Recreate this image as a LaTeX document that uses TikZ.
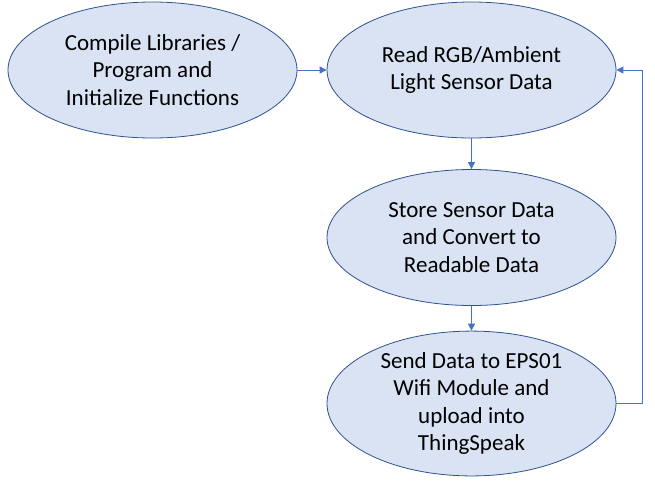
\documentclass[tikz,border=0pt]{standalone}
\usepackage{fontspec}
\setmainfont{Carlito}
\usetikzlibrary{arrows.meta, positioning, shapes.geometric}
\definecolor{stepfill}{HTML}{DAE3F3}
\definecolor{stepline}{HTML}{2F528F}
\definecolor{flowblue}{HTML}{4472C4}

\begin{document}
\begin{tikzpicture}[x=1pt, y=-1pt,
  every node/.style={font=\fontsize{23}{27.5}\selectfont},
  stage/.style={ellipse, draw=stepline, fill=stepfill, line width=0.8pt, minimum width=289pt, minimum height=136pt, inner sep=0pt, align=center},
  flow/.style={draw=flowblue, line width=0.9pt, -{Triangle[width=7pt, length=7pt]}},
]
\useasboundingbox (0,0) rectangle (655,485);
\node[stage] (compile) at (152.5, 70) {Compile Libraries /\\Program and\\Initialize Functions};
\node[stage] (read) at (471.5, 70) {Read RGB/Ambient\\Light Sensor Data};
\node[stage] (store) at (471.5, 237.5) {Store Sensor Data\\and Convert to\\Readable Data};
\node[stage] (send) at (471.5, 403.5) {Send Data to EPS01\\Wifi Module and\\upload into\\ThingSpeak};
\draw[flow] (compile.east) -- (read.west);
\draw[flow] (read.south) -- (store.north);
\draw[flow] (store.south) -- (send.north);
\draw[flow] (send.east) -- ++(26,0) |- (read.east);
\end{tikzpicture}
\end{document}
